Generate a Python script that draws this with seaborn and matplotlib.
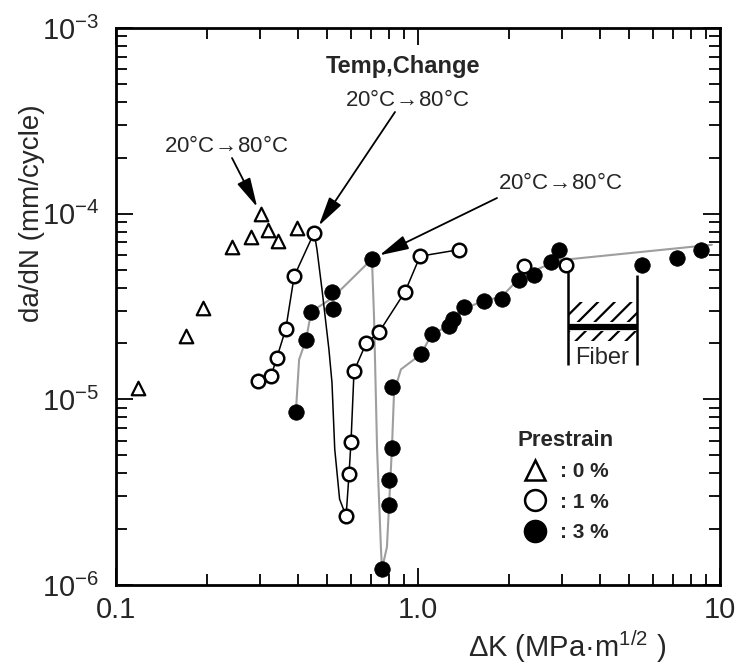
import numpy as np
import pandas as pd
import matplotlib
matplotlib.use("Agg")
import matplotlib.pyplot as plt
import seaborn as sns
from matplotlib import font_manager
from matplotlib.lines import Line2D
from matplotlib.ticker import LogLocator, NullFormatter, FixedLocator, FixedFormatter

# ---------------- data ----------------
# Prestrain 0 % (open triangles)
tri_x = [0.118, 0.171, 0.194, 0.242, 0.280, 0.302, 0.318, 0.344, 0.398]
tri_y = [1.15e-5, 2.2e-5, 3.1e-5, 6.6e-5, 7.5e-5, 9.9e-5, 8.2e-5, 7.1e-5, 8.4e-5]

# Prestrain 1 % (open circles)
open_x = [0.295, 0.326, 0.341, 0.365, 0.389, 0.453, 0.578, 0.591, 0.600, 0.614,
          0.673, 0.743, 0.906, 1.016, 1.37, 2.24, 3.10]
open_y = [1.25e-5, 1.33e-5, 1.68e-5, 2.4e-5, 4.6e-5, 7.9e-5, 2.35e-6, 3.95e-6, 5.9e-6, 1.42e-5,
          2.0e-5, 2.3e-5, 3.8e-5, 5.9e-5, 6.4e-5, 5.2e-5, 5.3e-5]
# trend curve through the 1 % data
oline_x = [0.295, 0.326, 0.341, 0.365, 0.389, 0.453, 0.463, 0.481, 0.507, 0.519, 0.530, 0.550,
           0.578, 0.591, 0.600, 0.614, 0.673, 0.743, 0.906, 1.016, 1.37]
oline_y = [1.25e-5, 1.33e-5, 1.68e-5, 2.4e-5, 4.6e-5, 7.9e-5, 6.4e-5, 3.9e-5, 1.86e-5, 1.23e-5,
           5.4e-6, 2.9e-6, 2.35e-6, 3.95e-6, 5.9e-6, 1.42e-5, 2.0e-5, 2.3e-5, 3.8e-5, 5.9e-5, 6.4e-5]

# Prestrain 3 % (filled circles)
fill_x = [0.394, 0.426, 0.443, 0.519, 0.522, 0.704, 0.760, 0.802, 0.802, 0.820, 0.820,
          1.023, 1.11, 1.27, 1.31, 1.42, 1.65, 1.90, 2.16, 2.42, 2.76, 2.93, 5.52, 7.2, 8.65]
fill_y = [8.5e-6, 2.1e-5, 2.97e-5, 3.8e-5, 3.05e-5, 5.7e-5, 1.22e-6, 2.7e-6, 3.7e-6, 5.5e-6, 1.16e-5,
          1.75e-5, 2.24e-5, 2.47e-5, 2.7e-5, 3.16e-5, 3.37e-5, 3.45e-5, 4.4e-5, 4.7e-5, 5.5e-5, 6.4e-5,
          5.3e-5, 5.8e-5, 6.4e-5]
# trend curve through the 3 % data
fline_x = [0.394, 0.404, 0.426, 0.443, 0.519, 0.704, 0.715, 0.732, 0.754, 0.760, 0.789, 0.802,
           0.820, 0.833, 0.878, 1.023, 1.11, 1.27, 1.42, 1.65, 1.90, 2.2, 2.9, 9.4]
fline_y = [8.5e-6, 1.64e-5, 2.1e-5, 2.97e-5, 3.5e-5, 5.7e-5, 2.8e-5, 5.4e-6, 1.56e-6, 1.22e-6, 1.6e-6,
           2.7e-6, 5.5e-6, 1.09e-5, 1.45e-5, 1.75e-5, 2.24e-5, 2.5e-5, 3.1e-5, 3.37e-5, 3.6e-5,
           4.6e-5, 5.6e-5, 6.8e-5]

# fiber band
fiber_x = [3.15, 5.3]
fiber_upper = [2.6e-5, 3.36e-5]
fiber_mid = 2.44e-5
fiber_lower = [2.05e-5, 2.32e-5]
fiber_line_top = [5.5e-5, 4.7e-5]
fiber_line_bottom = 1.54e-5

x_ticks = [0.1, 1.0, 10]
x_ticklabels = ["0.1", "1.0", "10"]
y_ticks = [1e-6, 1e-5, 1e-4, 1e-3]
y_ticklabels = [r"$10^{-6}$", r"$10^{-5}$", r"$10^{-4}$", r"$10^{-3}$"]

# ---------------- style ----------------
sns.set_style("ticks")
avail = {f.name for f in font_manager.fontManager.ttflist}
base = "Liberation Sans Narrow" if "Liberation Sans Narrow" in avail else "Liberation Sans"
plt.rcParams["font.family"] = [base, "DejaVu Sans"]
plt.rcParams["mathtext.default"] = "regular"
plt.rcParams["hatch.linewidth"] = 1.6

W, H = 737, 665
fig = plt.figure(figsize=(W / 100, H / 100), dpi=100)
ax = fig.add_axes([116 / W, 1 - 585 / H, 604 / W, 557 / H])


def fp(px, py):
    return (px / W, 1 - py / H)


# lines
sns.lineplot(x=fline_x, y=fline_y, sort=False, estimator=None, color="0.62", lw=1.5, ax=ax, zorder=1)
sns.lineplot(x=oline_x, y=oline_y, sort=False, estimator=None, color="k", lw=1.1, ax=ax, zorder=2)

# markers
sns.scatterplot(x=fill_x, y=fill_y, marker="o", s=125, color="k", edgecolor="k", linewidth=0.5, ax=ax, zorder=3)
sns.scatterplot(x=open_x, y=open_y, marker="o", s=95, facecolor="white", edgecolor="k", linewidth=1.8, ax=ax, zorder=4)
sns.scatterplot(x=tri_x, y=tri_y, marker="^", s=95, facecolor="white", edgecolor="k", linewidth=1.6, ax=ax, zorder=4)

# fiber band
ax.fill_between(fiber_x, [fiber_upper[0]] * 2, [fiber_upper[1]] * 2, facecolor="white",
                edgecolor="k", hatch="//", lw=0, zorder=2)
ax.fill_between(fiber_x, [fiber_lower[0]] * 2, [fiber_lower[1]] * 2, facecolor="white",
                edgecolor="k", hatch="//", lw=0, zorder=2)
ax.hlines(fiber_mid, fiber_x[0], fiber_x[1], color="k", lw=4.5, zorder=3)
ax.vlines(fiber_x, [fiber_line_bottom] * 2, fiber_line_top, color="k", lw=1.8, zorder=3)
fig.text(*fp(602, 358), "Fiber", ha="center", va="center", fontsize=17)

# axes
ax.set_xscale("log")
ax.set_yscale("log")
ax.set_xlim(0.1, 10)
ax.set_ylim(1e-6, 1e-3)
ax.xaxis.set_major_locator(FixedLocator(x_ticks))
ax.xaxis.set_major_formatter(FixedFormatter(x_ticklabels))
ax.yaxis.set_major_locator(FixedLocator(y_ticks))
ax.yaxis.set_major_formatter(FixedFormatter(y_ticklabels))
for axis in (ax.xaxis, ax.yaxis):
    axis.set_minor_locator(LogLocator(base=10, subs=np.arange(2, 10), numticks=20))
    axis.set_minor_formatter(NullFormatter())
ax.tick_params(which="both", direction="in", top=True, right=True, width=1.3, color="k")
ax.tick_params(which="major", length=12)
ax.tick_params(which="minor", length=8)
ax.tick_params(axis="x", which="major", labelsize=21, pad=8)
ax.tick_params(axis="y", which="major", labelsize=21, pad=12)
for sp in ax.spines.values():
    sp.set_linewidth(2.0)
    sp.set_color("k")
ax.set_xlabel("")
ax.set_ylabel("")

fig.text(*fp(32, 213), "da/dN (mm/cycle)", rotation=90, ha="center", va="center", fontsize=20)
fig.text(*fp(567, 647), r"ΔK (MPa·m$^{1/2}$ )", ha="center", va="center", fontsize=21)

# annotations
temp_label = r"20°C$\!\rightarrow\!$80°C"
fig.text(*fp(403, 66), "Temp,Change", ha="center", va="center", fontsize=17, fontweight="bold")
fig.text(*fp(407, 100), temp_label, ha="center", va="center", fontsize=16)
fig.text(*fp(226, 146), temp_label, ha="center", va="center", fontsize=16)
fig.text(*fp(560, 183), temp_label, ha="center", va="center", fontsize=16)

arrow_kw = dict(arrowstyle="-|>,head_length=0.9,head_width=0.22", color="k", lw=1.3,
                shrinkA=0, shrinkB=6, mutation_scale=20)
ax.annotate("", xy=(tri_x[5], tri_y[5]), xycoords="data", xytext=fp(232, 158),
            textcoords="figure fraction", arrowprops=arrow_kw, zorder=5)
ax.annotate("", xy=(open_x[5], open_y[5]), xycoords="data", xytext=fp(395, 112),
            textcoords="figure fraction", arrowprops=arrow_kw, zorder=5)
ax.annotate("", xy=(fill_x[5], fill_y[5]), xycoords="data", xytext=fp(497, 198),
            textcoords="figure fraction", arrowprops=arrow_kw, zorder=5)

# legend
handles = [
    Line2D([], [], ls="none", marker="^", ms=15, mfc="white", mec="k", mew=1.8),
    Line2D([], [], ls="none", marker="o", ms=15, mfc="white", mec="k", mew=1.8),
    Line2D([], [], ls="none", marker="o", ms=16, mfc="k", mec="k"),
]
labels = [": 0 %", ": 1 %", ": 3 %"]
leg = ax.legend(handles, labels, title="Prestrain", frameon=False, loc="center",
                bbox_to_anchor=((566 - 116) / 604, (585 - 486) / 557),
                prop={"weight": "bold", "size": 15},
                title_fontproperties={"weight": "bold", "size": 16},
                handletextpad=0.6, labelspacing=0.55, handlelength=1.2, borderpad=0)

fig.savefig("out.png", dpi=100)
